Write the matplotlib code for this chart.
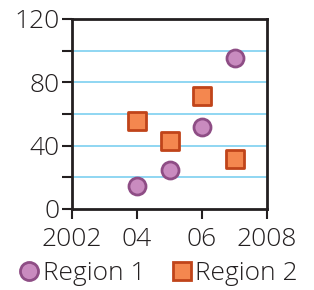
import matplotlib
matplotlib.use('Agg')
import matplotlib.pyplot as plt
from matplotlib.lines import Line2D

plt.rcParams['font.family'] = ['Open Sans', 'DejaVu Sans']
plt.rcParams['font.weight'] = 'light'

# data
years = [2004, 2005, 2006, 2007]
region1 = [14.5, 24.6, 51.8, 95.4]
region2 = [55.6, 43.0, 71.4, 31.6]
xticks = [2002, 2004, 2006, 2008]
xlabels = ['2002', '04', '06', '2008']
yticks = [0, 20, 40, 60, 80, 100, 120]
ylabels = ['0', '', '40', '', '80', '', '120']

dark = '#231f20'
c1_face, c1_edge = '#c98bbf', '#8e4d85'
c2_face, c2_edge = '#f4874f', '#c0441a'

fig = plt.figure(figsize=(3.14, 2.90), dpi=100)
ax = fig.add_axes([72/314, 1 - 209/290, 195/314, 190/290])

for y in [20, 40, 60, 80, 100]:
    ax.axhline(y, color='#8fd6f2', lw=1.4, zorder=1)

ax.scatter(years, region1, s=150, marker='o', facecolor=c1_face,
           edgecolor=c1_edge, linewidth=2, zorder=3)
ax.scatter(years, region2, s=170, marker='s', facecolor=c2_face,
           edgecolor=c2_edge, linewidth=2, zorder=3)

ax.set_xlim(2002, 2008)
ax.set_ylim(0, 120)
ax.set_xticks(xticks)
ax.set_xticklabels(xlabels)
ax.set_yticks(yticks)
ax.set_yticklabels(ylabels)
ax.tick_params(colors=dark, labelsize=19, length=7, width=1.5)
ax.tick_params(axis='x', pad=6)
ax.tick_params(axis='y', pad=2)
for s in ax.spines.values():
    s.set_color(dark)
    s.set_linewidth(2)

handles = [
    Line2D([], [], ls='none', marker='o', markersize=13, markerfacecolor=c1_face,
           markeredgecolor=c1_edge, markeredgewidth=2, label='Region 1'),
    Line2D([], [], ls='none', marker='s', markersize=13, markerfacecolor=c2_face,
           markeredgecolor=c2_edge, markeredgewidth=2, label='Region 2'),
]
leg = fig.legend(handles=handles, loc='center', bbox_to_anchor=(0.5, 1 - 274/290),
                 ncol=2, frameon=False, fontsize=19, handletextpad=0.0,
                 columnspacing=0.9, handlelength=1.0, borderaxespad=0)
for t in leg.get_texts():
    t.set_color(dark)

fig.savefig('out.png', dpi=100)
